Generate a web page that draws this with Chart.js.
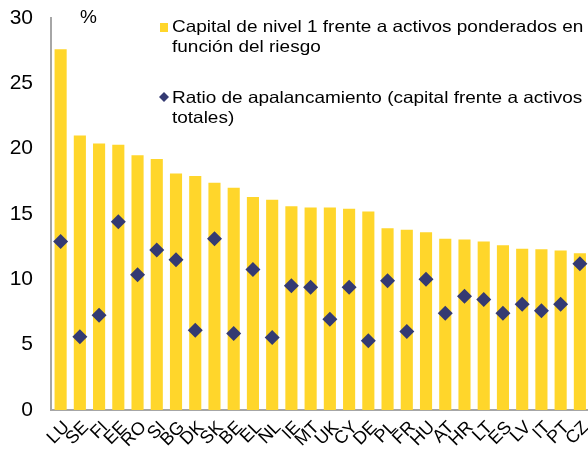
<!DOCTYPE html>
<html>
<head>
<meta charset="utf-8">
<script src="https://cdn.jsdelivr.net/npm/chart.js@4/dist/chart.umd.min.js"></script>
<style>
  html, body { margin: 0; padding: 0; background: #fff; overflow: hidden; }
  #wrap { width: 588px; height: 456px; position: relative; overflow: hidden; }
  #chart { display: block; }
</style>
</head>
<body>
<!-- canvas a little wider than the window: Chart.js keeps a right margin we can't remove -->
<div id="wrap"><canvas id="chart" width="597" height="456"></canvas></div>
<script>
const countries = ['LU','SE','FI','EE','RO','SI','BG','DK','SK','BE','EL','NL','IE','MT','UK','CY','DE','PL','FR','HU','AT','HR','LT','ES','LV','IT','PT','CZ'];
const tier1Ratio = [27.6, 21.0, 20.4, 20.3, 19.5, 19.2, 18.1, 17.9, 17.4, 17.0, 16.3, 16.1, 15.6, 15.5, 15.5, 15.4, 15.2, 13.9, 13.8, 13.6, 13.1, 13.05, 12.9, 12.6, 12.35, 12.3, 12.2, 12.0];
const leverageRatio = [12.9, 5.6, 7.25, 14.4, 10.35, 12.25, 11.5, 6.1, 13.1, 5.85, 10.75, 5.55, 9.5, 9.4, 6.95, 9.4, 5.3, 9.9, 6.0, 10.0, 7.4, 8.7, 8.45, 7.4, 8.1, 7.6, 8.1, 11.2];
const yTicks = [0, 5, 10, 15, 20, 25, 30];

const legendLabels = [
  ['Capital de nivel 1 frente a activos ponderados en', 'función del riesgo'],
  ['Ratio de apalancamiento (capital frente a activos', 'totales)']
];

const BAR_COLOR = '#FFD62B';
const DOT_COLOR = '#343A72';
const FONT = '"Liberation Sans", Arial, sans-serif';

// legend + "%" label drawn by hand, Chart.js can't wrap legend text
const customLegend = {
  id: 'customLegend',
  afterDraw(chart) {
    const ctx = chart.ctx;
    ctx.save();
    ctx.textBaseline = 'middle';
    ctx.fillStyle = '#000';
    ctx.font = '19px ' + FONT;
    ctx.fillText('%', 80, 18);

    ctx.fillStyle = BAR_COLOR;
    ctx.fillRect(160, 23, 8, 9);
    ctx.fillStyle = DOT_COLOR;
    ctx.beginPath();
    ctx.moveTo(164, 92);
    ctx.lineTo(169, 97);
    ctx.lineTo(164, 102);
    ctx.lineTo(159, 97);
    ctx.closePath();
    ctx.fill();

    // reference text is a bit wider than plain Arial
    ctx.font = '16.5px ' + FONT;
    ctx.fillStyle = '#000';
    ctx.translate(172, 0);
    ctx.scale(1.15, 1);
    ctx.fillText(legendLabels[0][0], 0, 27);
    ctx.fillText(legendLabels[0][1], 0, 47);
    ctx.fillText(legendLabels[1][0], 0, 98);
    ctx.fillText(legendLabels[1][1], 0, 118);
    ctx.restore();
  }
};

new Chart(document.getElementById('chart'), {
  type: 'bar',
  data: {
    labels: countries,
    datasets: [
      {
        type: 'line',
        label: 'Ratio de apalancamiento',
        data: leverageRatio,
        showLine: false,
        pointStyle: 'rectRot',
        pointRadius: 7.5,
        pointBackgroundColor: DOT_COLOR,
        pointBorderColor: DOT_COLOR,
        pointBorderWidth: 0,
        order: 0
      },
      {
        label: 'Capital de nivel 1',
        data: tier1Ratio,
        backgroundColor: BAR_COLOR,
        barPercentage: 0.63,
        categoryPercentage: 1,
        order: 1
      }
    ]
  },
  options: {
    responsive: false,
    animation: false,
    layout: { padding: { top: 18, right: 0, left: 0, bottom: 0 } },
    plugins: {
      legend: { display: false },
      tooltip: { enabled: false }
    },
    scales: {
      x: {
        offset: true,
        grid: { display: false, drawTicks: false },
        border: { display: true, color: '#A6A6A6', width: 2 },
        ticks: {
          color: '#000',
          font: { family: FONT, size: 18 },
          maxRotation: 45,
          minRotation: 45,
          autoSkip: false,
          padding: 7,
          labelOffset: 6
        },
        afterFit: scale => {
          scale.height = 46;
          scale.paddingLeft = 0;
          scale.paddingRight = 0;
        }
      },
      y: {
        min: 0,
        max: 30,
        grid: { display: false, drawTicks: false },
        border: { display: true, color: '#A6A6A6', width: 2 },
        afterBuildTicks: scale => { scale.ticks = yTicks.map(v => ({ value: v })); },
        ticks: {
          color: '#000',
          font: { family: FONT, size: 21 },
          padding: 18
        },
        afterFit: scale => {
          scale.width = 51;
          scale.paddingTop = 0;
          scale.paddingBottom = 0;
        }
      }
    }
  },
  plugins: [customLegend]
});
</script>
</body>
</html>
